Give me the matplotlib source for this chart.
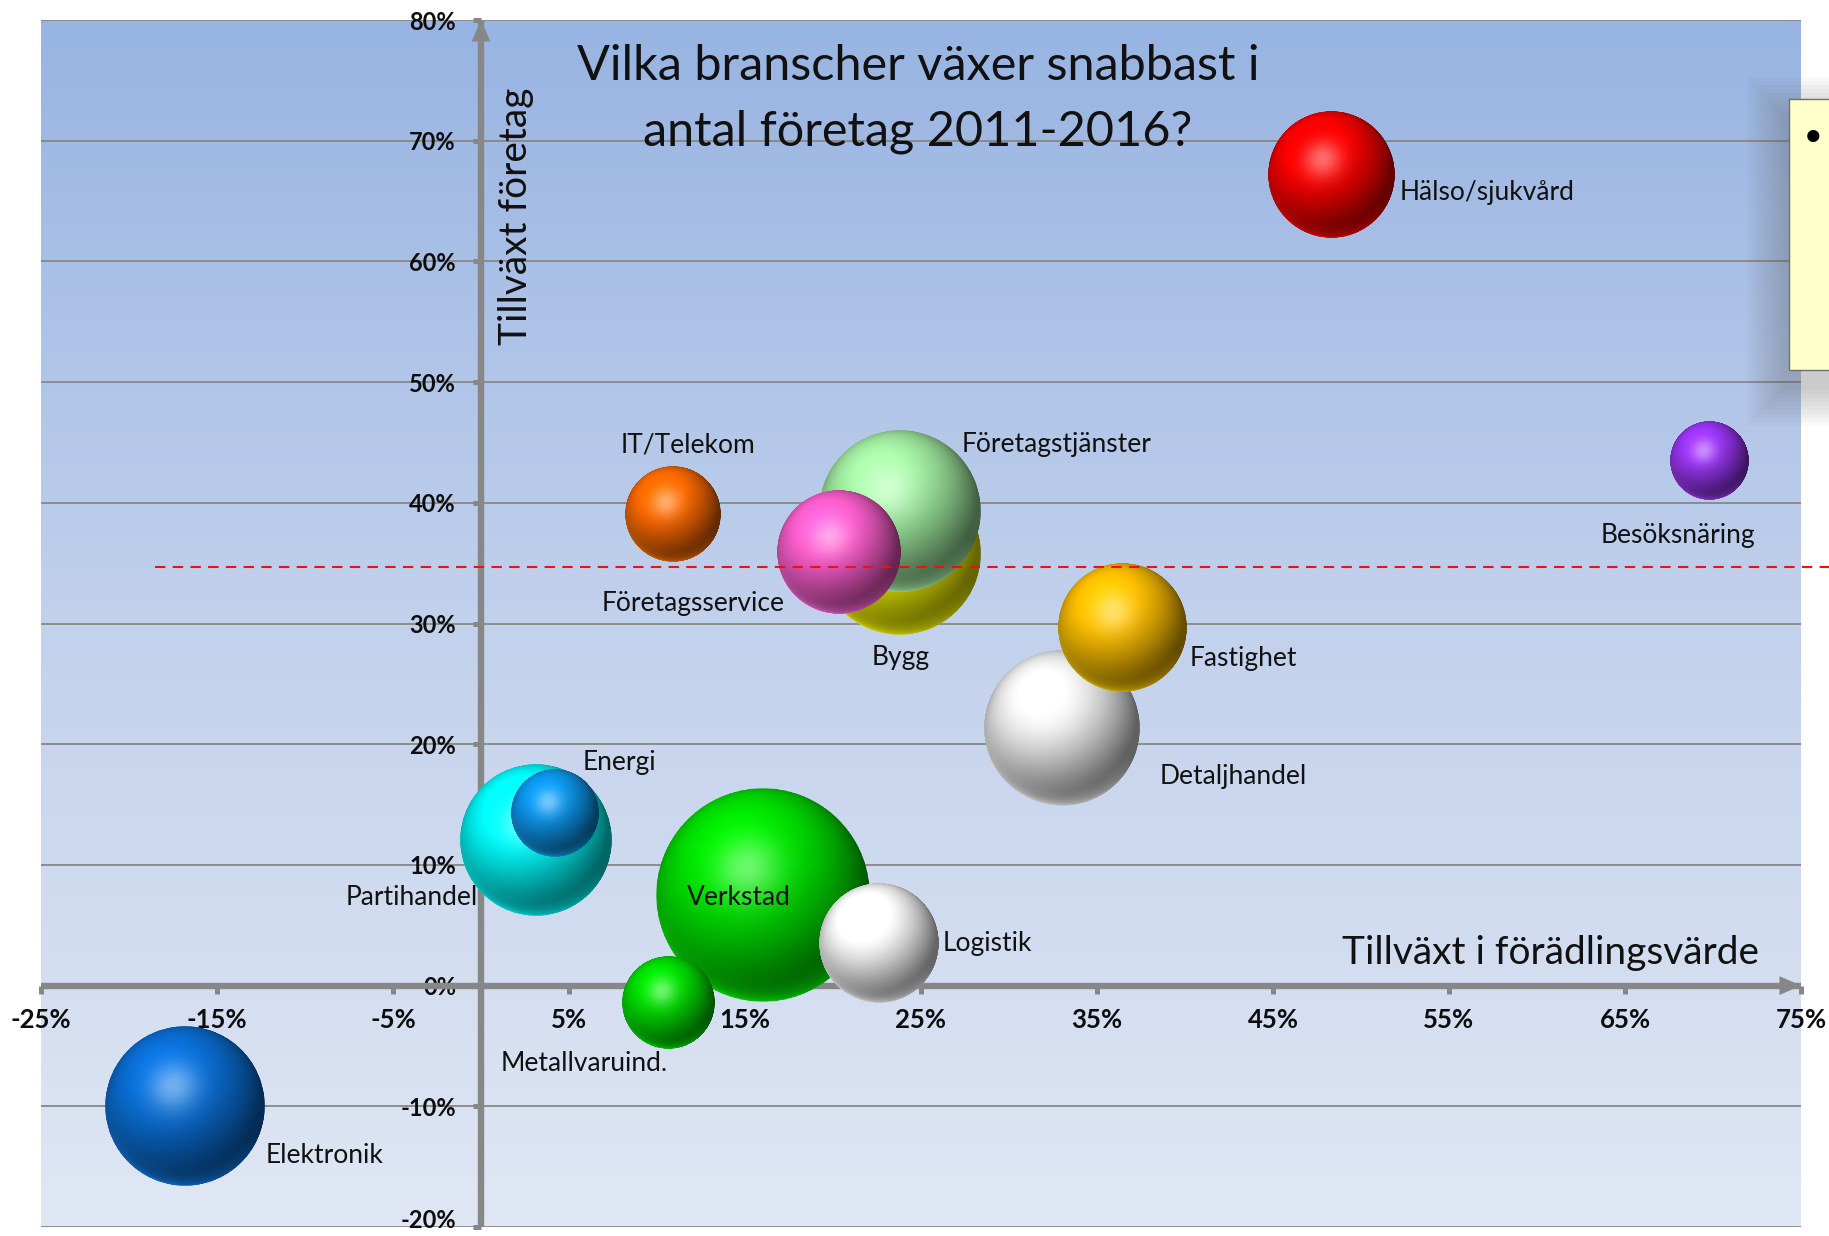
import numpy as np
import matplotlib
matplotlib.use("Agg")
import matplotlib.pyplot as plt
from matplotlib.colors import to_rgb, LinearSegmentedColormap
from matplotlib.offsetbox import OffsetImage, AnnotationBbox
from matplotlib.patches import Rectangle, ArrowStyle
from matplotlib.ticker import FixedLocator, FuncFormatter
from matplotlib.transforms import ScaledTranslation

# ---------------- data ----------------
industries = ["Verkstad", "Bygg", "Företagstjänster", "Elektronik", "Detaljhandel",
              "Partihandel", "Fastighet", "Hälso/sjukvård", "Företagsservice",
              "Logistik", "IT/Telekom", "Metallvaruind.", "Energi", "Besöksnäring"]
value_growth = [16.0, 23.8, 23.8, -16.8, 33.0, 3.1, 36.4, 48.3, 20.3, 22.6, 10.9, 10.6, 4.2, 69.8]
firm_growth = [7.5, 35.8, 39.3, -10.0, 21.3, 12.0, 29.6, 67.2, 35.9, 3.5, 39.1, -1.4, 14.3, 43.5]
bubble_size = [100, 58, 57.3, 55.9, 53.1, 49.8, 35.8, 34.7, 33.2, 31.4, 20.1, 18.5, 16.9, 13.6]
bubble_colors = ["#00e400", "#ffff00", "#a4f0a4", "#0a6fd6", "#f2f2f2",
                 "#00ffff", "#ffc000", "#ff0000", "#ff5fcf",
                 "#ffffff", "#ff6a00", "#00e000", "#0c96ec", "#9a35f5"]
x_ticks = [-25, -15, -5, 5, 15, 25, 35, 45, 55, 65, 75]
y_ticks = [-20, -10, 0, 10, 20, 30, 40, 50, 60, 70, 80]
threshold = 34.7
threshold_start = -18.5
title_lines = ["Vilka branscher växer snabbast i", "antal företag 2011-2016?"]
x_title = "Tillväxt i förädlingsvärde"
y_title = "Tillväxt företag"

# label placement: pixel offset from bubble centre (dx right, dy down), alignment
label_pos = {
    "Hälso/sjukvård": (69, 18, "left"),
    "Besöksnäring": (-32, 75, "center"),
    "IT/Telekom": (15, -69, "center"),
    "Företagstjänster": (62, -67, "left"),
    "Bygg": (1, 104, "center"),
    "Företagsservice": (-145, 51, "center"),
    "Fastighet": (68, 30, "left"),
    "Detaljhandel": (98, 48, "left"),
    "Partihandel": (-58, 57, "right"),
    "Energi": (28, -50, "left"),
    "Verkstad": (-24, 2, "center"),
    "Logistik": (64, 0, "left"),
    "Metallvaruind.": (-83, 61, "center"),
    "Elektronik": (80, 49, "left"),
}

W, H = 1829, 1236
DPI = 100
MAX_R = 107.0  # radius in px of the biggest bubble
GREY = "#878787"
FONT = "Lato"

fig = plt.figure(figsize=(W / DPI, H / DPI), dpi=DPI)
fig.patch.set_facecolor("white")
ax = fig.add_axes([41 / W, 1 - 1227 / H, (1801 - 41) / W, (1227 - 20) / H])
ax.set_autoscale_on(False)
ax.set_xlim(-25, 75)
ax.set_ylim(-20, 80)
ax.patch.set_visible(False)

# background gradient
cmap = LinearSegmentedColormap.from_list("bg", ["#e0e7f4", "#c2d1ec", "#98b4e2"])
grad = np.linspace(0, 1, 256)[::-1, None]
ax.imshow(grad, cmap=cmap, extent=(0, 1, 0, 1), transform=ax.transAxes,
          aspect="auto", zorder=0, interpolation="bicubic")

# grid
ax.set_axisbelow(True)
ax.yaxis.grid(True, color=GREY, linewidth=1.3)
ax.xaxis.grid(False)

# spines through origin
for s in ("top", "right"):
    ax.spines[s].set_visible(False)
ax.spines["left"].set_position(("data", 0))
ax.spines["bottom"].set_position(("data", 0))
for s in ("left", "bottom"):
    ax.spines[s].set_color(GREY)
    ax.spines[s].set_linewidth(4.6)
    ax.spines[s].set_zorder(2)
    ax.spines[s].set_capstyle("butt")

ax.xaxis.set_major_locator(FixedLocator(x_ticks))
ax.yaxis.set_major_locator(FixedLocator(y_ticks))
fmt = FuncFormatter(lambda v, p: f"{v:.0f}%")
ax.xaxis.set_major_formatter(fmt)
ax.yaxis.set_major_formatter(fmt)
ax.tick_params(axis="x", direction="out", length=6, width=3.6, color=GREY, pad=10,
               labelsize=18.5, labelcolor="#0d0d0d")
ax.tick_params(axis="y", direction="out", length=6, width=3.6, color=GREY, pad=12,
               labelsize=17, labelcolor="#0d0d0d")
for lab in ax.get_xticklabels() + ax.get_yticklabels():
    lab.set_fontfamily(FONT)
    lab.set_fontweight("bold")

# axis arrow heads
head = ArrowStyle("-|>", head_length=1.55, head_width=0.68)
ax.annotate("", xy=(0, 80), xytext=(0, 78), xycoords="data",
            arrowprops=dict(arrowstyle=head, color=GREY, lw=0, mutation_scale=10,
                            shrinkA=0, shrinkB=0), zorder=2.2, annotation_clip=False)
ax.annotate("", xy=(75, 0), xytext=(73, 0), xycoords="data",
            arrowprops=dict(arrowstyle=head, color=GREY, lw=0, mutation_scale=10,
                            shrinkA=0, shrinkB=0), zorder=2.2, annotation_clip=False)


def sphere(color, n=360):
    c = np.array(to_rgb(color))
    t = (np.arange(n) + 0.5) / n * 2 - 1
    u, v = np.meshgrid(t, -t)
    rr = np.sqrt(u ** 2 + v ** 2)
    z = np.sqrt(np.clip(1 - rr ** 2, 0, 1))
    L = np.array([-0.28, 0.48, 0.83])
    L /= np.linalg.norm(L)
    d = np.clip(u * L[0] + v * L[1] + z * L[2], 0, 1)
    rgb = c * (0.40 + 0.70 * d[..., None] ** 1.3)
    Hh = L + np.array([0, 0, 1.0])
    Hh /= np.linalg.norm(Hh)
    sp = np.clip(u * Hh[0] + v * Hh[1] + z * Hh[2], 0, 1) ** 22
    rgb = rgb + (1 - rgb) * 0.42 * sp[..., None]
    rim = (1 - z) ** 1.8 * np.clip(-0.85 * v - 0.35 * u, 0, 1)
    w = 0.9 * rim[..., None]
    rgb = rgb * (1 - w) + np.minimum(c * 1.05 + 0.05, 1) * w
    rgb = np.clip(rgb, 0, 1)
    alpha = np.clip((1 - rr) * n / 2.0, 0, 1)
    return np.dstack([rgb, alpha]), n


for i, (name, xv, yv, sz, col) in enumerate(zip(industries, value_growth, firm_growth,
                                                 bubble_size, bubble_colors)):
    r = MAX_R * np.sqrt(sz / 100.0)
    z0 = 3 + i * 0.1
    ax.scatter([xv], [yv], s=(2 * r * 0.96 * 72 / DPI) ** 2, c=[col], linewidths=0,
               zorder=z0)
    img, n = sphere(col)
    oi = OffsetImage(img, zoom=2 * r / (n * DPI / 72.0), interpolation="antialiased")
    ab = AnnotationBbox(oi, (xv, yv), xycoords="data", frameon=False, pad=0,
                        box_alignment=(0.5, 0.5), zorder=z0 + 0.05)
    ax.add_artist(ab)
    dx, dy, ha = label_pos[name]
    ax.annotate(name, xy=(xv, yv), xycoords="data", xytext=(dx, -dy),
                textcoords="offset pixels", ha=ha, va="center", fontsize=19,
                fontfamily=FONT, color="#111111", zorder=12, annotation_clip=False)

# threshold line
ax.plot([threshold_start, 77], [threshold, threshold], color="#ee1111", lw=1.5,
        dashes=(5, 3.5), zorder=11, clip_on=False)

# titles
fig.text(918 / W, 1 - 80 / H, title_lines[0], ha="center", va="baseline",
         fontsize=35, fontfamily=FONT, color="#111111")
fig.text(918 / W, 1 - 145 / H, title_lines[1], ha="center", va="baseline",
         fontsize=35, fontfamily=FONT, color="#111111")
fig.text(516 / W, 1 - 216 / H, y_title, rotation=90, ha="center", va="center",
         fontsize=28, fontfamily=FONT, color="#111111")
fig.text(1550 / W, 1 - 953 / H, x_title, ha="center", va="center",
         fontsize=28, fontfamily=FONT, color="#111111")

# sticky note (partially visible) with soft shadow
for k in range(10):
    e = 42 - 4 * k
    fig.add_artist(Rectangle(((1789 - e) / W, 1 - (370 + e + 14) / H),
                             (W - 1789 + 2 * e) / W, (271 + 2 * e - 6) / H,
                             transform=fig.transFigure, facecolor="#606060",
                             edgecolor="none", alpha=0.035, zorder=18))
fig.add_artist(Rectangle((1789 / W, 1 - 370 / H), (W - 1789 + 5) / W, 271 / H,
                         transform=fig.transFigure, facecolor="#ffffcc",
                         edgecolor="#707070", lw=1.0, zorder=19))
fig.text(1813 / W, 1 - 140 / H, "•", ha="center", va="center", fontsize=30,
         fontfamily="DejaVu Sans", color="black", zorder=20)

# keep the lowest y tick label inside the canvas
fig.canvas.draw()
lowest = ax.yaxis.get_major_ticks()[0].label1
lowest.set_transform(lowest.get_transform() + ScaledTranslation(0, 6 / 72, fig.dpi_scale_trans))

fig.savefig("out.png", dpi=DPI)
